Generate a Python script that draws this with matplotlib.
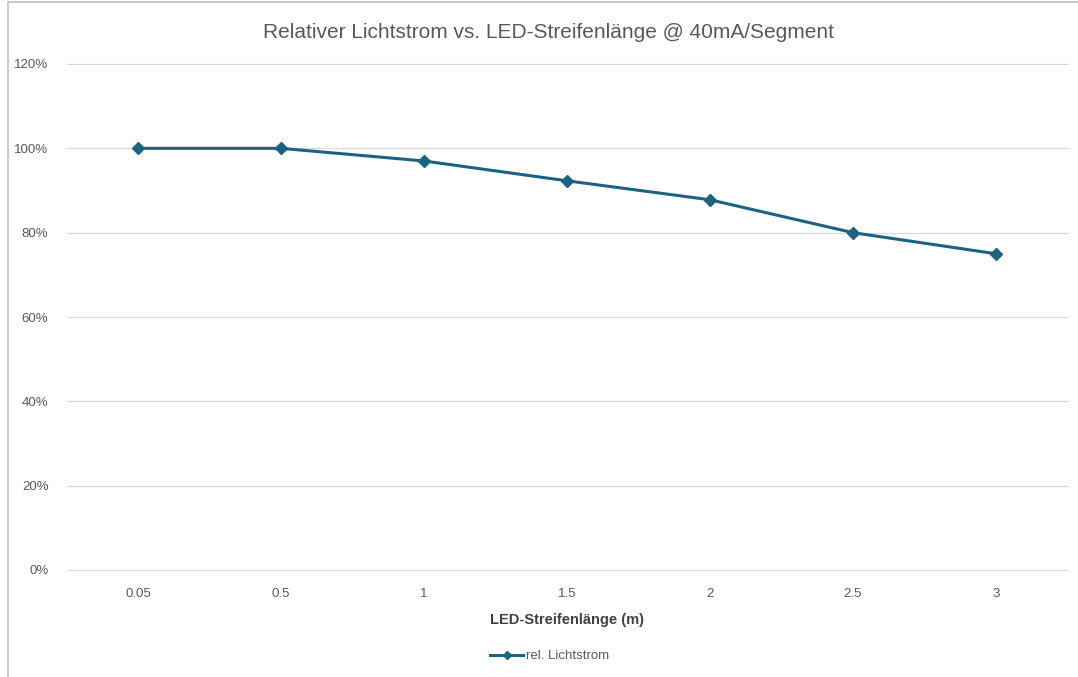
import matplotlib
matplotlib.use("Agg")
import matplotlib.pyplot as plt
from matplotlib.ticker import PercentFormatter
from matplotlib.patches import Rectangle

# data
categories = ["0.05", "0.5", "1", "1.5", "2", "2.5", "3"]
rel_flux = [100, 100, 97, 92.3, 87.8, 80, 75]
y_ticks = [0, 20, 40, 60, 80, 100, 120]

line_color = "#1B6283"
text_gray = "#595959"
grid_gray = "#D9D9D9"

plt.rcParams['font.family'] = ['Liberation Sans Narrow', 'Liberation Sans', 'DejaVu Sans']

fig = plt.figure(figsize=(10.78, 6.77), dpi=100)
fig.patch.set_facecolor('white')
# chart frame like the excel chart border
fig.patches.append(Rectangle((8 / 1078, -0.01), 1.0, 1.0 - 2 / 677 + 0.01,
                             transform=fig.transFigure, fill=False,
                             edgecolor="#BFBFBF", linewidth=1.2))

ax = fig.add_axes([66.5 / 1078, 1 - 570 / 677, 1001 / 1078, 506 / 677])
xs = range(len(categories))
ax.plot(xs, rel_flux, color=line_color, linewidth=2.2, marker='D',
        markersize=6, label="rel. Lichtstrom", zorder=3)

ax.set_xlim(-0.5, len(categories) - 0.5)
ax.set_ylim(0, 120)
ax.set_yticks(y_ticks)
ax.yaxis.set_major_formatter(PercentFormatter(decimals=0))
ax.set_xticks(list(xs))
ax.set_xticklabels(categories)
ax.grid(axis='y', color=grid_gray, linewidth=0.9)
for gl in ax.get_ygridlines():
    gl.set_clip_on(False)
ax.set_axisbelow(True)
for s in ax.spines.values():
    s.set_visible(False)
ax.tick_params(length=0, labelsize=9.5, labelcolor=text_gray)
ax.tick_params(axis='y', pad=13)
ax.tick_params(axis='x', pad=13)

ax.set_xlabel("LED-Streifenlänge (m)", fontsize=10.5, fontweight='bold',
              color="#404040", labelpad=9)
fig.text(0.509, 1 - 32 / 677, "Relativer Lichtstrom vs. LED-Streifenlänge @ 40mA/Segment",
         ha='center', va='center', fontsize=15, color=text_gray)

fig.legend(loc='center', bbox_to_anchor=(0.51, 1 - 656 / 677), frameon=False,
           fontsize=9.5, labelcolor=text_gray, handlelength=2.5, handletextpad=0.2,
           markerscale=0.7)

fig.savefig("out.png", dpi=100)
